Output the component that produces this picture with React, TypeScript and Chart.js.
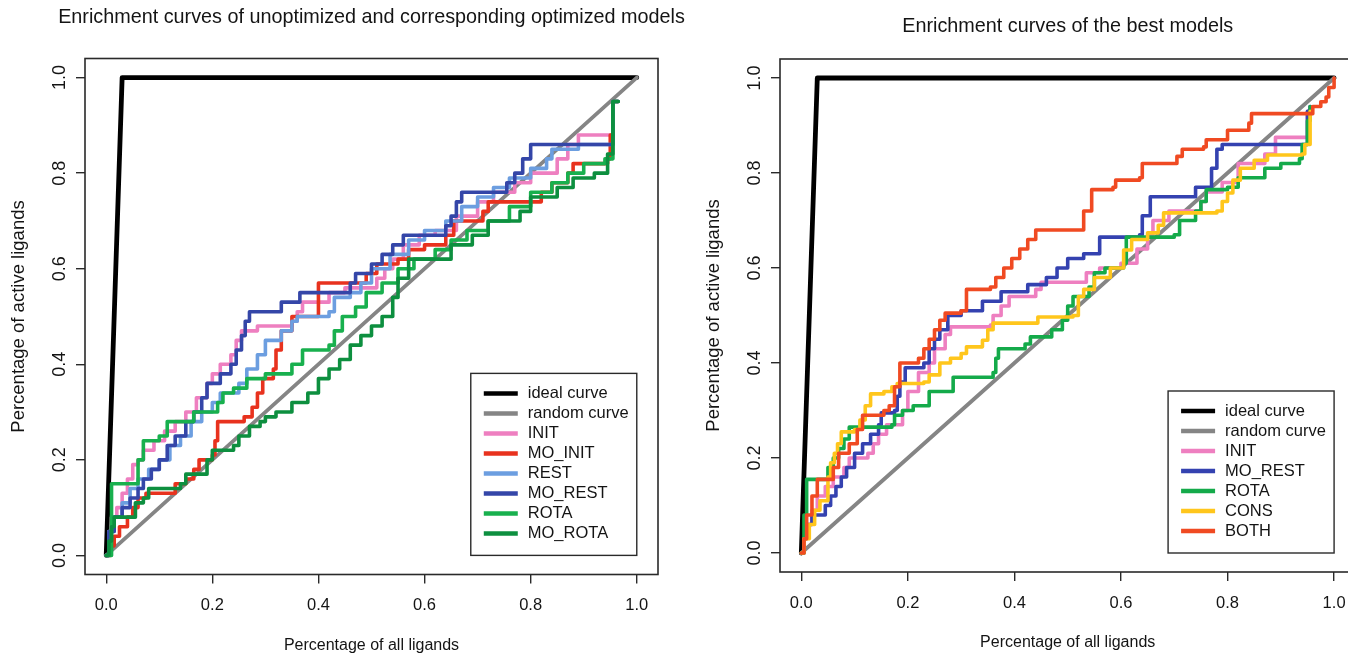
import React, { useEffect, useRef } from "react";
import { Chart, registerables } from "chart.js";

Chart.register(...registerables);

// ---------- text ----------
const LEFT_TITLE = "Enrichment curves of unoptimized and corresponding optimized models";
const RIGHT_TITLE = "Enrichment curves of the best models";
const X_TITLE = "Percentage of all ligands";
const Y_TITLE = "Percentage of active ligands";
const TICK_VALUES = [0, 0.2, 0.4, 0.6, 0.8, 1.0];
const TICK_LABELS = ["0.0", "0.2", "0.4", "0.6", "0.8", "1.0"];

// ---------- data: [x, y] points (x = fraction of all ligands, y = fraction of actives) ----------
const IDEAL: number[][] = [[0, 0], [0.03, 1.0], [1.0, 1.0]];
const RANDOM: number[][] = [[0, 0], [1.0, 1.0]];

// left panel
const L_INIT: number[][] = [[0,0],[0.005,0.05],[0.01,0.08],[0.02,0.10],[0.03,0.13],[0.04,0.16],[0.05,0.19],[0.06,0.20],[0.07,0.22],[0.09,0.24],[0.11,0.26],[0.13,0.28],[0.15,0.30],[0.17,0.33],[0.19,0.36],[0.20,0.38],[0.215,0.40],[0.235,0.42],[0.245,0.45],[0.255,0.47],[0.285,0.48],[0.35,0.49],[0.36,0.51],[0.37,0.53],[0.42,0.55],[0.45,0.56],[0.51,0.58],[0.525,0.60],[0.54,0.62],[0.56,0.65],[0.59,0.67],[0.62,0.68],[0.66,0.71],[0.70,0.74],[0.73,0.76],[0.77,0.78],[0.80,0.80],[0.85,0.83],[0.87,0.86],[0.89,0.88],[0.94,0.88],[0.955,0.95],[0.965,0.95]];
const L_MO_INIT: number[][] = [[0,0],[0.008,0.02],[0.015,0.04],[0.025,0.06],[0.04,0.08],[0.05,0.10],[0.06,0.12],[0.075,0.13],[0.13,0.15],[0.15,0.16],[0.165,0.18],[0.175,0.20],[0.20,0.21],[0.205,0.24],[0.21,0.28],[0.26,0.29],[0.275,0.31],[0.285,0.34],[0.295,0.37],[0.315,0.39],[0.32,0.43],[0.33,0.47],[0.35,0.50],[0.40,0.57],[0.48,0.57],[0.49,0.59],[0.51,0.61],[0.55,0.62],[0.57,0.64],[0.60,0.65],[0.64,0.67],[0.655,0.70],[0.71,0.72],[0.72,0.74],[0.82,0.76],[0.84,0.78],[0.87,0.80],[0.88,0.82],[0.945,0.83],[0.95,0.88],[0.955,0.95],[0.965,0.95]];
const L_REST: number[][] = [[0,0],[0.005,0.05],[0.015,0.08],[0.03,0.11],[0.045,0.14],[0.06,0.16],[0.08,0.18],[0.10,0.20],[0.12,0.23],[0.14,0.25],[0.16,0.28],[0.18,0.30],[0.20,0.32],[0.215,0.34],[0.25,0.36],[0.265,0.39],[0.285,0.42],[0.30,0.45],[0.33,0.47],[0.35,0.49],[0.36,0.50],[0.42,0.51],[0.43,0.54],[0.46,0.55],[0.48,0.57],[0.50,0.60],[0.535,0.63],[0.57,0.66],[0.60,0.68],[0.64,0.70],[0.67,0.73],[0.70,0.75],[0.73,0.77],[0.76,0.79],[0.80,0.81],[0.83,0.83],[0.84,0.85],[0.89,0.86],[0.94,0.86],[0.955,0.95],[0.965,0.95]];
const L_MO_REST: number[][] = [[0,0],[0.005,0.05],[0.015,0.08],[0.03,0.10],[0.045,0.12],[0.06,0.14],[0.07,0.16],[0.085,0.18],[0.10,0.20],[0.115,0.23],[0.13,0.25],[0.15,0.28],[0.165,0.30],[0.18,0.33],[0.19,0.36],[0.215,0.38],[0.235,0.40],[0.245,0.43],[0.255,0.46],[0.262,0.49],[0.27,0.51],[0.33,0.53],[0.365,0.55],[0.46,0.57],[0.47,0.59],[0.50,0.61],[0.52,0.63],[0.54,0.65],[0.56,0.67],[0.64,0.69],[0.65,0.71],[0.66,0.74],[0.67,0.76],[0.755,0.78],[0.77,0.80],[0.785,0.83],[0.80,0.86],[0.94,0.86],[0.955,0.95],[0.965,0.95]];
const L_ROTA: number[][] = [[0,0],[0.01,0.15],[0.05,0.15],[0.06,0.20],[0.07,0.24],[0.10,0.25],[0.115,0.28],[0.16,0.28],[0.165,0.30],[0.21,0.32],[0.22,0.34],[0.24,0.35],[0.265,0.37],[0.30,0.38],[0.35,0.40],[0.37,0.43],[0.42,0.44],[0.43,0.47],[0.445,0.50],[0.47,0.52],[0.49,0.55],[0.52,0.57],[0.55,0.60],[0.58,0.62],[0.62,0.64],[0.65,0.66],[0.68,0.68],[0.72,0.70],[0.76,0.73],[0.80,0.76],[0.84,0.78],[0.87,0.80],[0.90,0.82],[0.94,0.83],[0.955,0.95],[0.965,0.95]];
const L_MO_ROTA: number[][] = [[0,0],[0.005,0.03],[0.01,0.06],[0.015,0.08],[0.05,0.08],[0.055,0.11],[0.07,0.12],[0.08,0.14],[0.14,0.15],[0.15,0.17],[0.19,0.20],[0.20,0.22],[0.24,0.23],[0.25,0.25],[0.27,0.27],[0.29,0.28],[0.30,0.29],[0.32,0.30],[0.35,0.32],[0.38,0.34],[0.40,0.37],[0.42,0.39],[0.44,0.41],[0.46,0.44],[0.48,0.46],[0.50,0.48],[0.52,0.50],[0.54,0.54],[0.55,0.58],[0.57,0.62],[0.62,0.62],[0.65,0.65],[0.69,0.67],[0.72,0.70],[0.78,0.72],[0.80,0.75],[0.85,0.77],[0.88,0.79],[0.92,0.80],[0.945,0.84],[0.955,0.95],[0.965,0.95]];

// right panel
const R_INIT: number[][] = [[0,0],[0.005,0.03],[0.01,0.06],[0.02,0.09],[0.03,0.12],[0.045,0.14],[0.06,0.16],[0.08,0.18],[0.09,0.20],[0.125,0.21],[0.135,0.23],[0.145,0.25],[0.16,0.27],[0.19,0.30],[0.20,0.34],[0.22,0.38],[0.24,0.40],[0.25,0.43],[0.27,0.46],[0.28,0.476],[0.355,0.48],[0.36,0.50],[0.375,0.52],[0.39,0.54],[0.44,0.555],[0.45,0.57],[0.53,0.57],[0.535,0.59],[0.56,0.60],[0.60,0.61],[0.63,0.64],[0.65,0.67],[0.66,0.70],[0.69,0.72],[0.75,0.74],[0.76,0.76],[0.79,0.78],[0.82,0.82],[0.87,0.84],[0.89,0.875],[0.94,0.875],[0.95,0.93],[0.955,0.94]];
const R_MO_REST: number[][] = [[0,0],[0.005,0.03],[0.01,0.06],[0.02,0.08],[0.045,0.10],[0.055,0.12],[0.065,0.14],[0.075,0.16],[0.085,0.18],[0.10,0.21],[0.115,0.23],[0.13,0.25],[0.145,0.27],[0.15,0.295],[0.175,0.30],[0.18,0.33],[0.185,0.36],[0.195,0.39],[0.23,0.40],[0.24,0.43],[0.25,0.45],[0.26,0.47],[0.275,0.50],[0.30,0.51],[0.34,0.53],[0.375,0.55],[0.425,0.565],[0.46,0.58],[0.48,0.60],[0.50,0.62],[0.53,0.63],[0.56,0.665],[0.635,0.67],[0.64,0.71],[0.655,0.75],[0.74,0.77],[0.77,0.81],[0.78,0.85],[0.79,0.86],[0.935,0.86],[0.95,0.93],[0.955,0.94]];
const R_ROTA: number[][] = [[0,0],[0.005,0.08],[0.01,0.155],[0.04,0.155],[0.05,0.18],[0.06,0.20],[0.07,0.22],[0.08,0.24],[0.09,0.265],[0.17,0.27],[0.175,0.29],[0.19,0.30],[0.21,0.31],[0.24,0.34],[0.285,0.37],[0.36,0.38],[0.365,0.41],[0.37,0.43],[0.42,0.44],[0.43,0.455],[0.47,0.47],[0.49,0.49],[0.50,0.52],[0.51,0.54],[0.54,0.56],[0.55,0.59],[0.57,0.60],[0.605,0.61],[0.61,0.665],[0.70,0.67],[0.71,0.70],[0.74,0.72],[0.75,0.74],[0.76,0.765],[0.80,0.77],[0.82,0.79],[0.87,0.81],[0.90,0.82],[0.935,0.83],[0.94,0.86],[0.95,0.91],[0.955,0.94]];
const R_CONS: number[][] = [[0,0],[0.005,0.03],[0.015,0.06],[0.025,0.09],[0.035,0.11],[0.05,0.16],[0.055,0.19],[0.062,0.21],[0.068,0.23],[0.075,0.255],[0.10,0.26],[0.11,0.28],[0.12,0.31],[0.13,0.335],[0.155,0.34],[0.17,0.35],[0.18,0.357],[0.23,0.36],[0.24,0.375],[0.26,0.40],[0.28,0.41],[0.30,0.42],[0.31,0.434],[0.34,0.448],[0.35,0.47],[0.36,0.484],[0.444,0.497],[0.51,0.50],[0.52,0.54],[0.53,0.555],[0.55,0.58],[0.58,0.60],[0.605,0.638],[0.62,0.66],[0.65,0.674],[0.67,0.69],[0.68,0.716],[0.78,0.72],[0.79,0.74],[0.80,0.758],[0.81,0.785],[0.824,0.81],[0.85,0.827],[0.875,0.838],[0.94,0.84],[0.945,0.86],[0.955,0.93]];
const R_BOTH: number[][] = [[0,0],[0.005,0.03],[0.01,0.08],[0.02,0.12],[0.03,0.155],[0.06,0.18],[0.07,0.21],[0.09,0.23],[0.105,0.26],[0.115,0.29],[0.155,0.30],[0.165,0.31],[0.175,0.35],[0.185,0.40],[0.22,0.41],[0.23,0.43],[0.24,0.45],[0.25,0.47],[0.26,0.49],[0.27,0.505],[0.30,0.51],[0.31,0.555],[0.355,0.56],[0.365,0.58],[0.38,0.60],[0.395,0.62],[0.41,0.64],[0.425,0.66],[0.44,0.68],[0.525,0.68],[0.53,0.72],[0.545,0.765],[0.585,0.77],[0.59,0.785],[0.635,0.79],[0.64,0.82],[0.70,0.82],[0.705,0.835],[0.715,0.85],[0.755,0.855],[0.76,0.87],[0.795,0.87],[0.80,0.89],[0.84,0.905],[0.845,0.925],[0.955,0.925],[0.96,0.94],[0.975,0.95],[0.985,0.96],[0.99,0.98],[1.0,1.0]];

// ---------- series ----------
type Series = { label: string; color: string; pts: number[][]; stepped: boolean; width: number };
const LEFT_SERIES: Series[] = [
  { label: "ideal curve", color: "#000000", pts: IDEAL, stepped: false, width: 4.8 },
  { label: "random curve", color: "#858585", pts: RANDOM, stepped: false, width: 3.8 },
  { label: "INIT", color: "#ee7fc0", pts: L_INIT, stepped: true, width: 3.6 },
  { label: "MO_INIT", color: "#e8321e", pts: L_MO_INIT, stepped: true, width: 3.6 },
  { label: "REST", color: "#6c9ee0", pts: L_REST, stepped: true, width: 3.6 },
  { label: "MO_REST", color: "#3446a8", pts: L_MO_REST, stepped: true, width: 3.6 },
  { label: "ROTA", color: "#18b04e", pts: L_ROTA, stepped: true, width: 3.6 },
  { label: "MO_ROTA", color: "#0d8f3f", pts: L_MO_ROTA, stepped: true, width: 3.6 },
];
const RIGHT_SERIES: Series[] = [
  { label: "ideal curve", color: "#000000", pts: IDEAL, stepped: false, width: 4.8 },
  { label: "random curve", color: "#858585", pts: RANDOM, stepped: false, width: 3.8 },
  { label: "INIT", color: "#ee7fc0", pts: R_INIT, stepped: true, width: 3.6 },
  { label: "MO_REST", color: "#3442b0", pts: R_MO_REST, stepped: true, width: 3.6 },
  { label: "ROTA", color: "#14aa4a", pts: R_ROTA, stepped: true, width: 3.6 },
  { label: "CONS", color: "#ffc61c", pts: R_CONS, stepped: true, width: 3.6 },
  { label: "BOTH", color: "#f04a22", pts: R_BOTH, stepped: true, width: 3.6 },
];

const FONT = '"Liberation Sans", Arial, Helvetica, sans-serif';
const TEXT_COLOR = "#141414";

function drawText(ctx: CanvasRenderingContext2D, s: string, x: number, y: number, size: number, rot = 0, align: CanvasTextAlign = "center") {
  ctx.save();
  ctx.translate(x, y);
  if (rot) ctx.rotate(rot);
  ctx.font = `${size}px ${FONT}`;
  ctx.fillStyle = TEXT_COLOR;
  ctx.textAlign = align;
  ctx.textBaseline = "middle";
  ctx.fillText(s, 0, 0);
  ctx.restore();
}

type PanelCfg = {
  series: Series[];
  title: string;
  titleY: number;
  canvasW: number;
  padding: { left: number; right: number; top: number; bottom: number };
};

function makeDecorPlugin(cfg: PanelCfg) {
  return {
    id: "decor",
    afterDraw(chart: any) {
      const ctx: CanvasRenderingContext2D = chart.ctx;
      const ca = chart.chartArea;
      const xs = chart.scales.x;
      const ys = chart.scales.y;
      // box
      ctx.save();
      ctx.strokeStyle = "#2a2a2a";
      ctx.lineWidth = 1.6;
      ctx.strokeRect(ca.left, ca.top, ca.right - ca.left, ca.bottom - ca.top);
      ctx.restore();
      // tick labels
      TICK_VALUES.forEach((v, i) => {
        drawText(ctx, TICK_LABELS[i], xs.getPixelForValue(v), ca.bottom + 31, 16.5);
        drawText(ctx, TICK_LABELS[i], ca.left - 25, ys.getPixelForValue(v), 18, -Math.PI / 2);
      });
      // axis titles
      const cx = (xs.getPixelForValue(0) + xs.getPixelForValue(1)) / 2;
      drawText(ctx, X_TITLE, cx, ca.bottom + 71, 16);
      const cy = (ys.getPixelForValue(0) + ys.getPixelForValue(1)) / 2;
      drawText(ctx, Y_TITLE, ca.left - 66, cy, 18.5, -Math.PI / 2);
      // main title
      drawText(ctx, cfg.title, cx, cfg.titleY, 19.8);
      // legend (bottom-right corner at data (1, 0))
      const items = chart.data.datasets;
      const rowH = 20;
      const w = 166;
      const h = items.length * rowH + 22;
      const right = xs.getPixelForValue(1);
      const bottom = ys.getPixelForValue(0);
      const left = right - w;
      const top = bottom - h;
      ctx.save();
      ctx.fillStyle = "#ffffff";
      ctx.fillRect(left, top, w, h);
      ctx.strokeStyle = "#2a2a2a";
      ctx.lineWidth = 1.4;
      ctx.strokeRect(left, top, w, h);
      items.forEach((d: any, i: number) => {
        const y = top + 20 + i * rowH;
        ctx.strokeStyle = d.borderColor;
        ctx.lineWidth = 4.5;
        ctx.lineCap = "butt";
        ctx.beginPath();
        ctx.moveTo(left + 13, y);
        ctx.lineTo(left + 47, y);
        ctx.stroke();
        drawText(ctx, d.label, left + 57, y, 16.5, 0, "left");
      });
      ctx.restore();
    },
  };
}

function Panel({ cfg, style }: { cfg: PanelCfg; style: React.CSSProperties }) {
  const ref = useRef<HTMLCanvasElement | null>(null);
  useEffect(() => {
    if (!ref.current) return;
    const n = cfg.series.length;
    const chart = new Chart(ref.current, {
      type: "line",
      data: {
        datasets: cfg.series.map((s, i) => ({
          label: s.label,
          data: s.pts.map(([x, y]) => ({ x, y })),
          borderColor: s.color,
          backgroundColor: s.color,
          borderWidth: s.width,
          stepped: s.stepped ? "before" : false,
          pointRadius: 0,
          fill: false,
          tension: 0,
          order: n - i,
          borderCapStyle: "round",
          borderJoinStyle: "round",
        })) as any,
      },
      options: {
        animation: false,
        responsive: false,
        maintainAspectRatio: false,
        events: [],
        layout: { padding: cfg.padding },
        plugins: { legend: { display: false }, title: { display: false }, tooltip: { enabled: false } },
        scales: {
          x: {
            type: "linear",
            min: -0.04,
            max: 1.04,
            afterBuildTicks: (s: any) => { s.ticks = TICK_VALUES.map((v) => ({ value: v })); },
            afterFit: (s: any) => { s.height = 0; },
            grid: { drawOnChartArea: false, drawTicks: true, tickLength: 9, color: "#2a2a2a", lineWidth: 1.4 },
            border: { display: false },
            ticks: { display: false },
          },
          y: {
            type: "linear",
            min: -0.04,
            max: 1.04,
            afterBuildTicks: (s: any) => { s.ticks = TICK_VALUES.map((v) => ({ value: v })); },
            afterFit: (s: any) => { s.width = 0; },
            grid: { drawOnChartArea: false, drawTicks: true, tickLength: 9, color: "#2a2a2a", lineWidth: 1.4 },
            border: { display: false },
            ticks: { display: false },
          },
        },
      } as any,
      plugins: [makeDecorPlugin(cfg)],
    });
    return () => chart.destroy();
  }, [cfg]);
  return <canvas ref={ref} width={cfg.canvasW} height={654} style={{ position: "absolute", top: 0, ...style, width: cfg.canvasW, height: 654 }} />;
}

const LEFT_CFG: PanelCfg = {
  series: LEFT_SERIES,
  title: LEFT_TITLE,
  titleY: 18,
  canvasW: 694,
  padding: { left: 85, right: 36, top: 58.5, bottom: 79.5 },
};
const RIGHT_CFG: PanelCfg = {
  series: RIGHT_SERIES,
  title: RIGHT_TITLE,
  titleY: 27,
  canvasW: 680,
  padding: { left: 86, right: 18.6, top: 59, bottom: 82 },
};

export default function App() {
  return (
    <div style={{ position: "absolute", left: 0, top: 0, width: 1348, height: 654, overflow: "hidden", background: "#ffffff" }}>
      <Panel cfg={LEFT_CFG} style={{ left: 0 }} />
      <Panel cfg={RIGHT_CFG} style={{ left: 694 }} />
    </div>
  );
}
